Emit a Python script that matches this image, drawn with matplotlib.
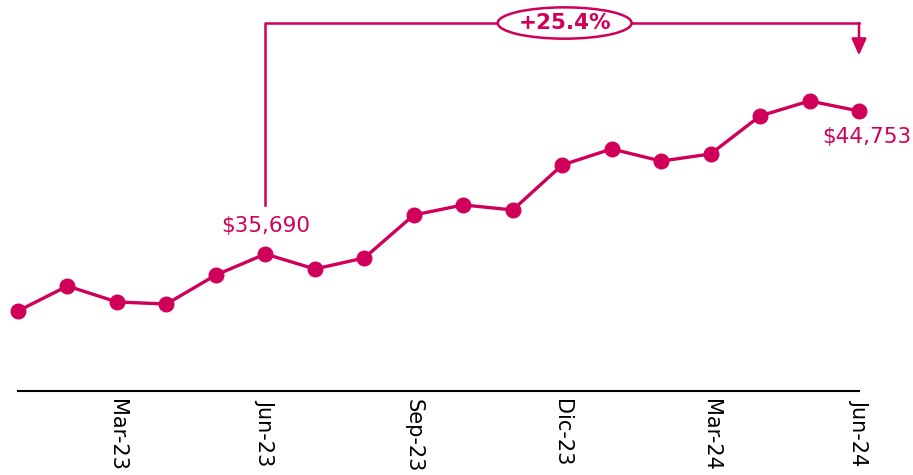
import matplotlib
matplotlib.use("Agg")
import matplotlib.pyplot as plt

# monthly values, Jan-23 .. Jun-24
months = ["Ene-23", "Feb-23", "Mar-23", "Abr-23", "May-23", "Jun-23",
          "Jul-23", "Ago-23", "Sep-23", "Oct-23", "Nov-23", "Dic-23",
          "Ene-24", "Feb-24", "Mar-24", "Abr-24", "May-24", "Jun-24"]
values = [32080, 33660, 32650, 32520, 34360, 35690,
          34740, 35440, 38160, 38800, 38480, 41330,
          42350, 41580, 42030, 44440, 45390, 44753]
tick_idx = [2, 5, 8, 11, 14, 17]
tick_labels = ["Mar-23", "Jun-23", "Sep-23", "Dic-23", "Mar-24", "Jun-24"]
start_i, end_i = 5, 17
change = "+25.4%"

color = "#d0005a"

fig = plt.figure(figsize=(9.13, 4.75), dpi=100)
ax = fig.add_axes([18 / 913, 84 / 475, (859 - 18) / 913, 391 / 475])
ax.set_xlim(0, 17)
ax.set_ylim(27007, 51789)

x = list(range(len(values)))
ax.plot(x, values, color=color, lw=2.4, marker="o", ms=10.5, clip_on=False, zorder=3)

for s in ["top", "right", "left"]:
    ax.spines[s].set_visible(False)
ax.spines["bottom"].set_linewidth(1.5)
ax.set_yticks([])
ax.set_xticks(tick_idx)
ax.set_xticklabels(tick_labels, rotation=270, fontsize=15, color="black")
ax.tick_params(axis="x", length=0, pad=6)

# value labels
ax.text(start_i, values[start_i] + 1800, "$35,690", ha="center", va="center",
        fontsize=15.5, color=color)
ax.text(end_i + 0.15, values[end_i] - 1650, "$44,753", ha="center", va="center",
        fontsize=15.5, color=color, clip_on=False)

# bracket showing the change
top = 50330
ax.plot([start_i, start_i, end_i], [38800, top, top], color=color, lw=1.8,
        clip_on=False, zorder=2)
ax.annotate("", xy=(end_i, top - 2050), xytext=(end_i, top),
            arrowprops=dict(arrowstyle="-|>,head_width=0.45,head_length=1.0",
                            color=color, lw=1.8, shrinkA=0, shrinkB=0),
            annotation_clip=False)
ax.text((start_i + end_i) / 2 + 0.05, top, change, ha="center", va="center",
        fontsize=15.5, fontweight="bold", color=color, zorder=4,
        bbox=dict(boxstyle="ellipse,pad=0.05", fc="white", ec=color, lw=1.8))

fig.savefig("out.png", dpi=100)
